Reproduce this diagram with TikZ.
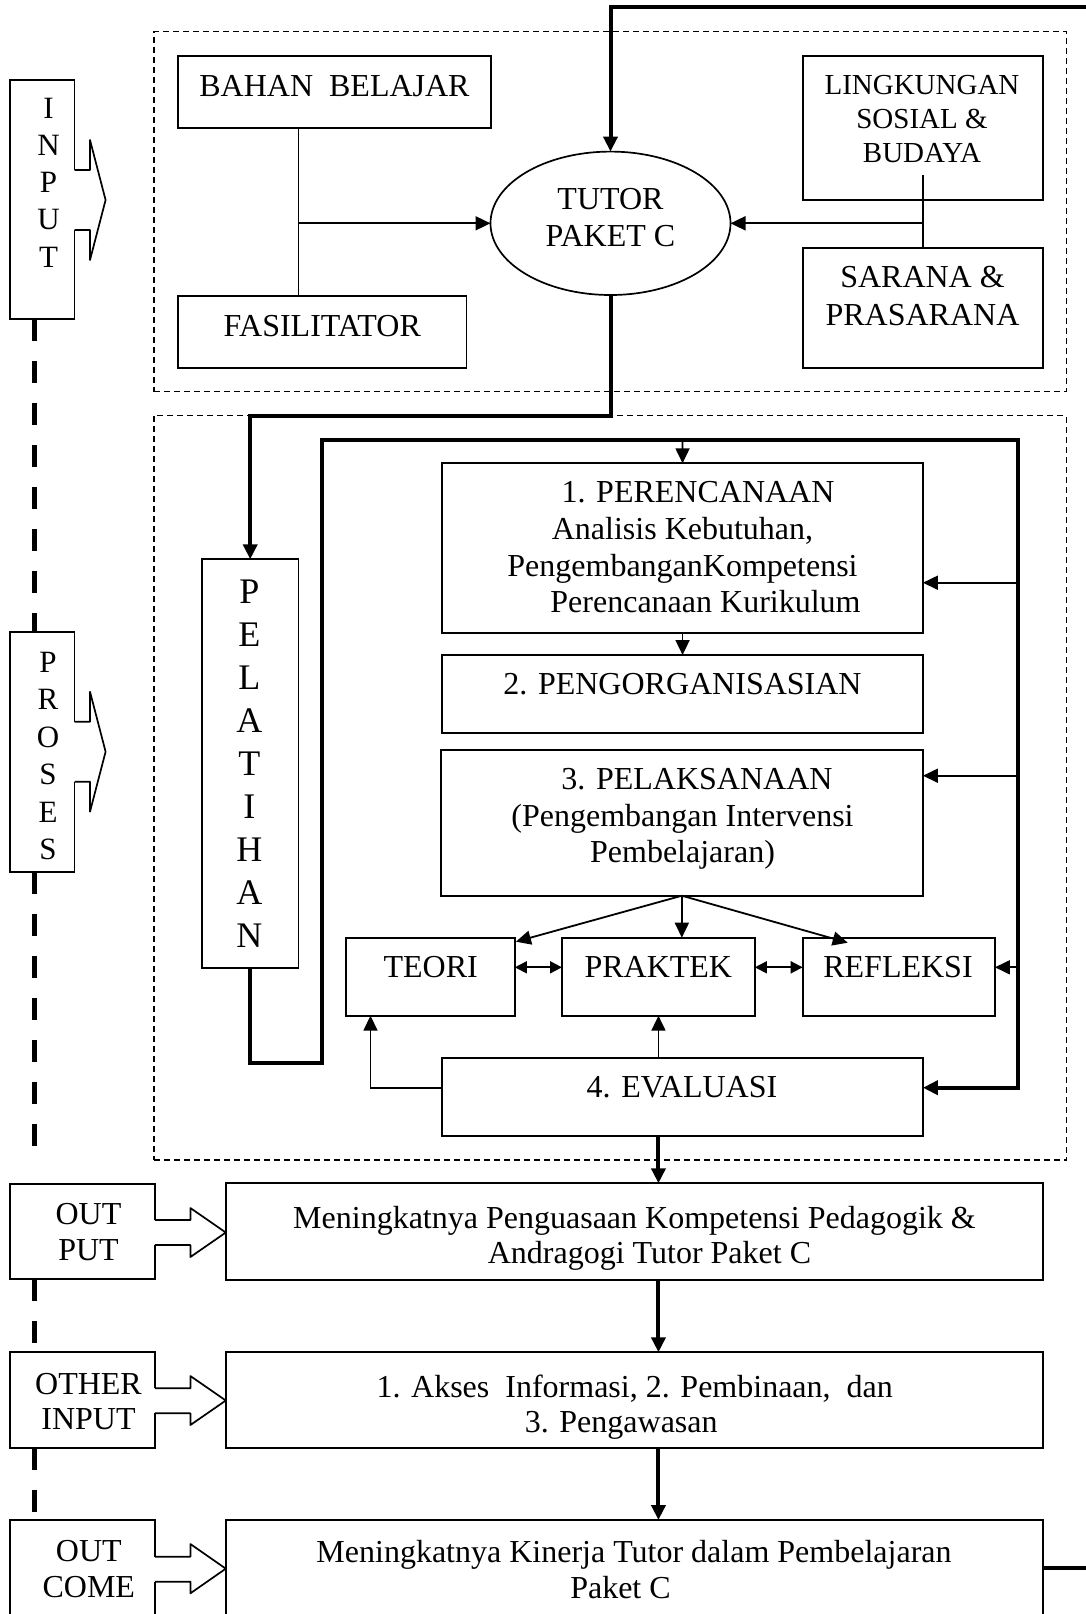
\documentclass[tikz,border=0pt]{standalone}
\usepackage{fontspec}
\setmainfont{Liberation Serif}
\usetikzlibrary{arrows.meta,shapes.geometric}
\newcommand{\mkbox}[6][]{\node[bx,#1,minimum width={#5-#3},minimum height={#6-#4}] (#2) at ({(#3+#5)/2},{(#4+#6)/2}) {};}
\newcommand{\blk}[7]{%
  \fill[white] ({#1-1.5},#2) rectangle (#4,#3);
  \draw[bline] (#1,#2) -- (#4,#2) -- (#4,#5) -- (#7,{(#5+#6)/2}) -- (#4,#6) -- (#4,#3) -- (#1,#3);}
\begin{document}
\begin{tikzpicture}[x=1pt,y=-1pt,
  bx/.style={draw,rectangle,line width=1.7pt,inner sep=0pt,outer sep=0pt},
  dbox/.style={line width=1.3pt,dash pattern=on 6pt off 4pt},
  txt/.style={inner sep=0pt,outer sep=0pt,anchor=north,align=center,font=\fontsize{32}{36.7}\selectfont},
  thinl/.style={line width=1.8pt},
  thickl/.style={line width=4pt},
  arr/.style={-{Triangle[length=15pt,width=14pt]}},
  darr/.style={{Triangle[length=12pt,width=12pt]}-{Triangle[length=12pt,width=12pt]}},
  ldash/.style={line width=4.5pt,dash pattern=on 22pt off 20pt},
  bline/.style={line width=1.7pt,line join=round}
]
\fill[white] (0,0) rectangle (1086,1614);
\useasboundingbox (0,0) rectangle (1086,1614);

% regions
\mkbox[dbox]{reg1}{154.1}{31.7}{1066.6}{391.7}
\mkbox[dbox]{reg2}{154.1}{415.7}{1066.6}{1160}

% left stage boxes
\mkbox{inbox}{9.7}{80}{74.5}{319.3}
\mkbox{prbox}{9.7}{631.7}{74.5}{871.7}
\mkbox{opbox}{9.7}{1184}{154.8}{1279.3}
\mkbox{oibox}{9.7}{1351.7}{154.8}{1447.7}
\mkbox{ocbox}{9.7}{1520}{154.8}{1630}
\blk{74.5}{170}{230}{90}{140}{260}{105.6}
\blk{74.5}{721.7}{781.7}{90}{691.7}{811.7}{105.6}
\blk{154.8}{1220}{1245}{190.4}{1208}{1257}{225.8}
\blk{154.8}{1388.3}{1413.3}{190.4}{1376}{1425}{225.8}
\blk{154.8}{1556.7}{1581.7}{190.4}{1544}{1593.3}{225.8}

% input region
\mkbox{bahan}{178.3}{55.7}{490.7}{127.7}
\mkbox{fas}{178.3}{295.7}{466.4}{367.7}
\mkbox{ling}{802.7}{55.7}{1042.7}{200}
\mkbox{sar}{802.7}{247.7}{1042.7}{367.7}
\node[draw,ellipse,line width=1.7pt,inner sep=0pt,outer sep=0pt,minimum width=240pt,minimum height=143.4pt] (tutor) at (610.5,223.3) {};

% process region
\mkbox{pel}{201.9}{559.3}{298.5}{967.7}
\mkbox{per}{442.2}{463.3}{922.9}{632.7}
\mkbox{org}{442.2}{655}{922.9}{733.3}
\mkbox{lak}{440.8}{750}{922.9}{895.7}
\mkbox{teori}{346.3}{937.7}{514.9}{1015.7}
\mkbox{prak}{562}{937.7}{754.9}{1015.7}
\mkbox{ref}{802.7}{937.7}{994.9}{1015.7}
\mkbox{eva}{442.2}{1057.7}{922.9}{1135.7}

% results
\mkbox{out1}{225.8}{1183.3}{1042.7}{1280}
\mkbox{akses}{225.8}{1352.3}{1042.7}{1447.7}
\mkbox{outc}{225.8}{1520}{1042.7}{1616.6}

% connectors
\coordinate (fbtop) at (1096,7.3);
\draw[thickl,arr] (outc.east) -| (fbtop) -| (tutor.north);

\coordinate (bj) at (298.5,223.3);
\draw[thinl] (bj |- bahan.south) -- (bj |- fas.north);
\draw[thinl,arr] (bj) -- (tutor.west);

\coordinate (lj) at (922.9,223.3);
\coordinate (ls) at (922.9,175);
\draw[thinl] (ls) -- (lj |- sar.north);
\draw[thinl,arr] (lj) -- (tutor.east);

\coordinate (c1) at (250.2,415.7);
\draw[thickl,arr] (tutor.south) |- (c1) -- (pel.north);

\coordinate (c2) at (322,1063.3);
\coordinate (c3) at (1018,440);
\draw[thickl,arr] (pel.south) |- (c2) |- (c3) |- ([yshift=9pt]eva.east);

\coordinate (t1) at (682.55,440);
\draw[thinl,arr] (t1) -- (per.north);
\draw[thinl,arr] (per.south) -- (org.north);
\coordinate (r1) at (1018,582.7);
\coordinate (r2) at (1018,775.7);
\coordinate (r3) at (1018,967.3);
\draw[thinl,arr] (r1) -- (r1 -| per.east);
\draw[thinl,arr] (r2) -- (r2 -| lak.east);
\draw[thinl,arr] (r3) -- (r3 -| ref.east);

\draw[thinl,arr] (lak.south) -- ([xshift=1pt,yshift=-4pt]teori.north east);
\draw[thinl,arr] (lak.south) -- (lak.south |- prak.north);
\draw[thinl,arr] (lak.south) -- ([xshift=45pt,yshift=-5pt]ref.north west);
\draw[thinl,darr] ([yshift=9.4pt]teori.east) -- ([yshift=9.4pt]prak.west);
\draw[thinl,darr] ([yshift=9.4pt]prak.east) -- ([yshift=9.4pt]ref.west);
\draw[thinl,arr] ([yshift=9pt]eva.west) -| ([xshift=24.2pt]teori.south west);
\draw[thinl,arr] (prak.south |- eva.north) -- (prak.south);
\draw[thickl,arr] (prak.south |- eva.south) -- (prak.south |- out1.north);
\draw[thickl,arr] (prak.south |- out1.south) -- (prak.south |- akses.north);
\draw[thickl,arr] (prak.south |- akses.south) -- (prak.south |- outc.north);

% left dashed spine
\draw[ldash] ([xshift=24.6pt]inbox.south west) -- ([xshift=24.6pt]prbox.north west);
\coordinate (dend) at (34.3,1146);
\draw[ldash] ([xshift=24.6pt]prbox.south west) -- (dend);
\draw[ldash] ([xshift=24.6pt]opbox.south west) -- ([xshift=24.6pt]oibox.north west);
\draw[ldash] ([xshift=24.6pt]oibox.south west) -- ([xshift=24.6pt]ocbox.north west);

% texts
\node[txt,font=\fontsize{31}{37.1}\selectfont] (tIn) at (48.5,98.3) {I\\N\\P\\U\\T};
\node[txt,font=\fontsize{31}{37.5}\selectfont] (tPr) at (48,651.7) {P\\R\\O\\S\\E\\S};
\node[txt,font=\fontsize{36}{43}\selectfont] (tPel) at (249.3,580) {P\\E\\L\\A\\T\\I\\H\\A\\N};
\node[txt] (tBahan) at (334.5,75) {BAHAN\ \ BELAJAR};
\node[txt] (tFas) at (322.3,315) {FASILITATOR};
\node[txt] (tTut) at (610.5,188.3) {TUTOR\\PAKET C};
\node[txt,font=\fontsize{29}{34.2}\selectfont] (tLing) at (922,75) {LINGKUNGAN\\SOSIAL \&\\BUDAYA};
\node[txt,font=\fontsize{32}{37.5}\selectfont] (tSar) at (922.5,266.7) {SARANA \&\\PRASARANA};
\node[txt] (tPer) at (682.5,481.7) {\rule{31pt}{0pt}1. PERENCANAAN\\Analisis Kebutuhan,\\PengembanganKompetensi\\\rule{46pt}{0pt}Perencanaan Kurikulum};
\node[txt] (tOrg) at (682.5,673.3) {2. PENGORGANISASIAN};
\node[txt] (tLak) at (682.5,768.3) {\rule{29pt}{0pt}3. PELAKSANAAN\\(Pengembangan Intervensi\\Pembelajaran)};
\node[txt] (tTeo) at (430.7,956.7) {TEORI};
\node[txt] (tPra) at (658.3,956.7) {PRAKTEK};
\node[txt] (tRef) at (898,956.7) {REFLEKSI};
\node[txt] (tEva) at (682,1076.7) {4. EVALUASI};
\node[txt,font=\fontsize{32}{36}\selectfont] (tOp) at (88.5,1203.3) {OUT\\PUT};
\node[txt,font=\fontsize{32}{35}\selectfont] (tOi) at (88.5,1373.3) {OTHER\\INPUT};
\node[txt] (tOc) at (88.8,1540) {OUT\\COME};
\node[txt,font=\fontsize{32}{35}\selectfont] (tOut1) at (634.5,1206.7) {Meningkatnya Penguasaan Kompetensi Pedagogik \&\\\rule{30pt}{0pt}Andragogi Tutor Paket C};
\node[txt,font=\fontsize{32}{35}\selectfont] (tAk) at (634.7,1375) {1. Akses\ \ Informasi, 2. Pembinaan,\ \ dan\\3. Pengawasan\rule{27pt}{0pt}};
\node[txt] (tOc2) at (634,1540) {Meningkatnya Kinerja Tutor dalam Pembelajaran\\Paket C\rule{27pt}{0pt}};
\end{tikzpicture}
\end{document}
